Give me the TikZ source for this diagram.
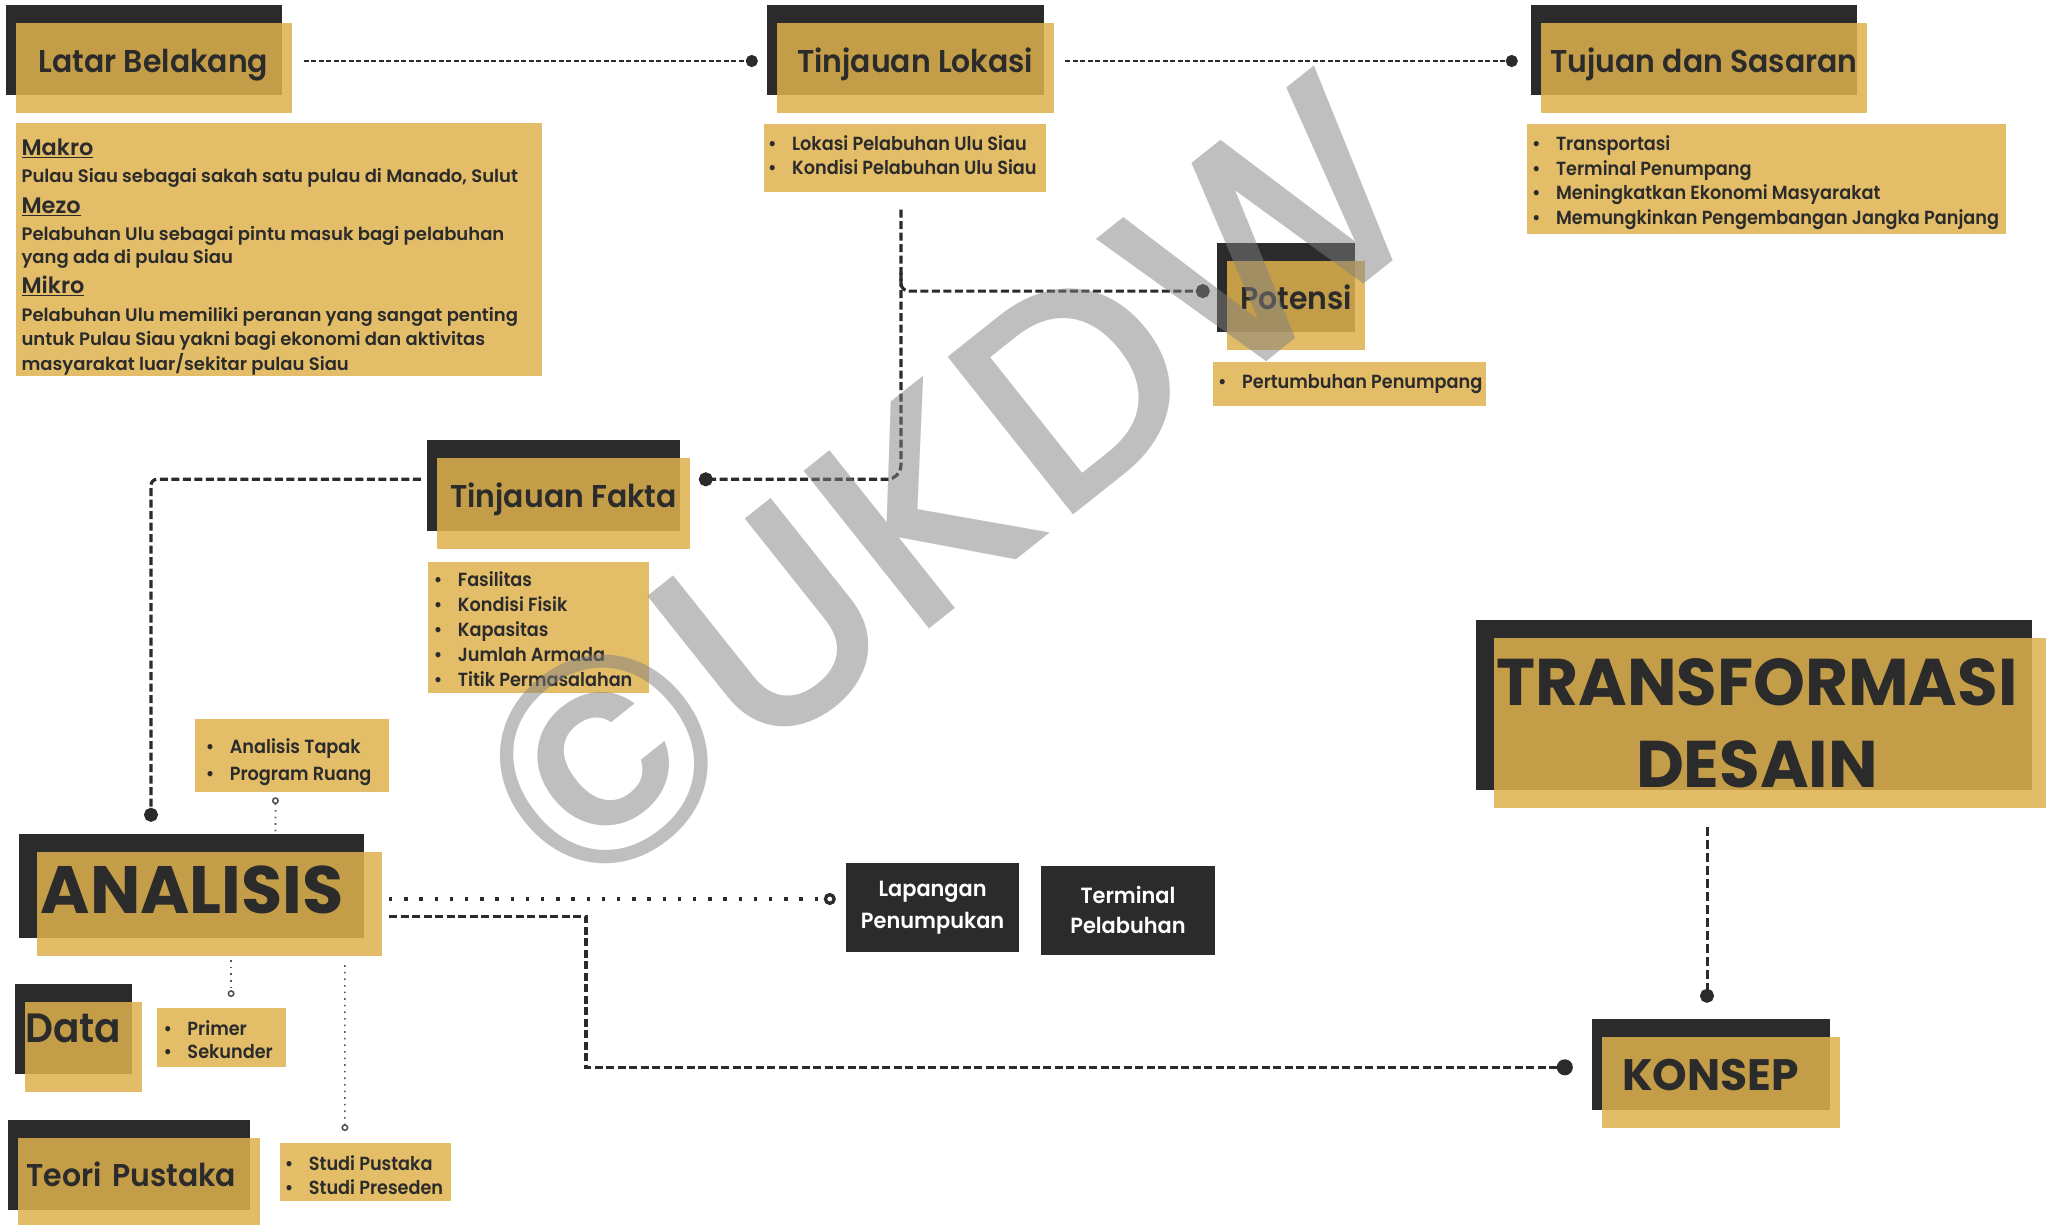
\documentclass[tikz,border=0pt]{standalone}
\usepackage{fontspec}
\setmainfont{Poppins}
\newfontfamily\headfont{Poppins SemiBold}[FakeStretch=0.95]
\newfontfamily\bodyfont{Poppins SemiBold}[FakeStretch=0.93]
\newfontfamily\latarfont{Poppins SemiBold}
\newfontfamily\wmfont{Poppins Medium}
\usetikzlibrary{shadows,arrows.meta}
\definecolor{ink}{HTML}{2B2B2B}
\definecolor{goldbase}{HTML}{DEB14D}
\definecolor{goldpale}{HTML}{E3BD68}
\definecolor{wmgray}{HTML}{808080}
\newcommand{\itm}[1]{\strut\makebox[24pt][l]{\textbullet}#1}
\newcommand{\hd}[1]{{\latarfont\fontsize{22.4}{24.5}\selectfont\strut\underline{#1}}}
\tikzset{
  titlebox/.style={fill=goldbase, fill opacity=0.85, text opacity=1, text=ink, inner sep=0pt,
    font=\headfont\fontsize{31.5}{36}\selectfont, text height=22pt, text depth=14pt,
    general shadow={fill=ink, fill opacity=1, shadow xshift=#1, shadow yshift=18pt}},
  titlebox/.default=-10pt,
  listbox/.style={fill=goldpale, inner sep=0pt},
  listtext/.style={anchor=north west, inner sep=0pt, align=left, text=ink,
    font=\bodyfont\fontsize{19}{#1}\selectfont},
  listtext/.default=24,
  darkbox/.style={fill=ink, text=white, inner sep=0pt, align=center},
  finedash/.style={draw=ink, line width=2.5pt, dash pattern=on 5pt off 2.5pt},
  dashline/.style={draw=ink, line width=3.2pt, dash pattern=on 8pt off 3.5pt},
  dotline/.style={draw=ink, line width=3.3pt, dash pattern=on 3.3pt off 11.9pt},
  thindot/.style={draw=ink!80, line width=1.6pt, dash pattern=on 1.6pt off 5pt},
  watermark/.style={rotate=38.5, text=wmgray, text opacity=0.5, inner sep=0pt,
    font=\wmfont\fontsize{290}{300}\selectfont}
}
\begin{document}
\begin{tikzpicture}[x=1pt, y=-1pt]
\useasboundingbox (0,0) rectangle (2046,1224);
\clip (0,0) rectangle (2046,1224);
\fill[white] (0,0) rectangle (2046,1224);

\node[titlebox, minimum width=276pt, minimum height=90.6pt] (latar) at (153.5,68) {Latar Belakang};
\node[titlebox, minimum width=276.8pt, minimum height=90.6pt] (lokasi) at (915.2,68) {Tinjauan Lokasi};
\node[titlebox, minimum width=326.3pt, minimum height=90.6pt] (tujuan) at (1704,68) {Tujuan dan Sasaran};
\node[titlebox, minimum width=138.4pt, minimum height=89.3pt] (potensi) at (1296,305.4) {Potensi};
\node[titlebox, minimum width=253pt, minimum height=91pt] (fakta) at (563.5,503.8) {Tinjauan Fakta};
\node[titlebox=-18pt, minimum width=345.4pt, minimum height=104pt, inner xsep=4pt, text width=337.4pt, align=left,
  font=\bfseries\fontsize{67}{70}\selectfont, text height=47pt, text depth=28.6pt] (analisis) at (209.4,904.3) {ANALISIS};
\node[titlebox, minimum width=116.8pt, minimum height=90pt, inner xsep=0.5pt, text width=115.8pt, align=left,
  font=\headfont\fontsize{41}{44}\selectfont, text height=28.6pt, text depth=37.4pt] (data) at (83.4,1046.7) {Data};
\node[titlebox, minimum width=241.3pt, minimum height=89.7pt, inner xsep=8pt, text width=225.3pt, align=left,
  text depth=16pt] (teori) at (139.05,1183.15) {Teori Pustaka};
\node[titlebox, minimum width=238pt, minimum height=91pt, inner xsep=20pt, text width=198pt, align=left,
  font=\bfseries\fontsize{44}{48}\selectfont, text height=30.7pt, text depth=16pt] (konsep) at (1721,1082.8) {KONSEP};
\node[titlebox=-18pt, minimum width=556pt, minimum height=170pt, align=center,
  font=\bfseries\fontsize{66}{82}\selectfont, text height=, text depth=] (transf) at (1772,723.3) {TRANSFORMASI\hspace*{30pt}\\DESAIN\hspace*{30pt}};

\node[listbox, minimum width=526.8pt, minimum height=252.7pt] (latarbox) at (279,249.65) {};
\node[listtext=24.5, font=\latarfont\fontsize{18}{24.5}\selectfont] (latartext) at (21.4,137.85) {\hd{Makro}\\[3.2pt]
  \strut Pulau Siau sebagai sakah satu pulau di Manado, Sulut\\[6.1pt]
  \hd{Mezo}\\[2.2pt]
  Pelabuhan Ulu sebagai pintu masuk bagi pelabuhan\\[-1.2pt]
  yang ada di pulau Siau\\[5.5pt]
  \hd{Mikro}\\[3.9pt]
  Pelabuhan Ulu memiliki peranan yang sangat penting\\[-1.2pt]
  untuk Pulau Siau yakni bagi ekonomi dan aktivitas\\[1.2pt]
  masyarakat luar/sekitar pulau Siau};
\node[listbox, minimum width=282.6pt, minimum height=68.3pt] (lokasibox) at (905.1,158.15) {};
\node[listtext=23.3] (lokasitext) at (767.9,134.4) {\itm{Lokasi Pelabuhan Ulu Siau}\\ \itm{Kondisi Pelabuhan Ulu Siau}};
\node[listbox, minimum width=479.2pt, minimum height=110.3pt] (tujuanbox) at (1766.1,179.15) {};
\node[listtext=24.5] (tujuantext) at (1531.8,133.55) {\itm{Transportasi}\\ \itm{Terminal Penumpang}\\
  \itm{Meningkatkan Ekonomi Masyarakat}\\ \itm{Memungkinkan Pengembangan Jangka Panjang}};
\node[listbox, minimum width=272.3pt, minimum height=43.7pt] (potensibox) at (1349.55,384.15) {};
\node[listtext] (potensitext) at (1217.9,371.5) {\itm{Pertumbuhan Penumpang}};
\node[listbox, minimum width=221.4pt, minimum height=131pt] (faktabox) at (538.3,627.2) {};
\node[listtext=25] (faktatext) at (433.7,569.2) {\itm{Fasilitas}\\ \itm{Kondisi Fisik}\\ \itm{Kapasitas}\\
  \itm{Jumlah Armada}\\ \itm{Titik Permasalahan}};
\node[listbox, minimum width=193.9pt, minimum height=73.3pt] (tapakbox) at (292.35,755.65) {};
\node[listtext=26.7] (tapaktext) at (205.6,734.6) {\itm{Analisis Tapak}\\ \itm{Program Ruang}};
\node[listbox, minimum width=128.6pt, minimum height=59pt] (primerbox) at (221.4,1037.8) {};
\node[listtext=23.3] (primertext) at (163.3,1018.7) {\itm{Primer}\\ \itm{Sekunder}};
\node[listbox, minimum width=171.4pt, minimum height=57.7pt] (studibox) at (365.3,1172.15) {};
\node[listtext=24.3] (studitext) at (284.7,1153) {\itm{Studi Pustaka}\\ \itm{Studi Preseden}};

\node[darkbox, minimum width=172.8pt, minimum height=88.7pt, font=\headfont\fontsize{22}{31.7}\selectfont] (lapangan) at (932.6,907.65) {Lapangan\\Penumpukan};
\node[darkbox, minimum width=174.4pt, minimum height=89pt, font=\headfont\fontsize{22}{30}\selectfont] (terminal) at (1128,910.2) {Terminal\\Pelabuhan};

\draw[finedash, -{Circle[length=12pt]}] ([xshift=12pt, yshift=7pt]latar.east) -- ([xshift=-18.8pt, yshift=7pt]lokasi.west);
\draw[finedash, -{Circle[length=12pt]}] ([xshift=11.4pt, yshift=7pt]lokasi.east) -- ([xshift=-22.9pt, yshift=7pt]tujuan.west);
\draw[dashline, rounded corners=14pt, -{Circle[length=14pt]}] ([xshift=-4.2pt, yshift=-17pt]lokasibox.south) |- ([xshift=8.6pt, yshift=24.5pt]fakta.east);
\draw[dashline, rounded corners=8pt, -{Circle[length=14pt]}] ([xshift=-4.2pt, yshift=-80pt]lokasibox.south) |- ([xshift=-16.8pt, yshift=14.3pt]potensi.west);
\draw[dashline, rounded corners=6pt, -{Circle[length=14pt]}] ([xshift=-16pt, yshift=24.5pt]fakta.west) -| ([xshift=-58.4pt, yshift=30.3pt]analisis.north);
\draw[dotline, -{Circle[open, length=12pt]}] ([xshift=6.7pt, yshift=5.3pt]analisis.east) -- ([xshift=-10.2pt, yshift=8.65pt]lapangan.west);
\draw[dashline, -{Circle[length=16pt]}] ([xshift=6.7pt, yshift=-12.4pt]analisis.east) -- ++(196.9,0) |- ([xshift=-29pt, yshift=15.5pt]konsep.west);
\draw[dashline, line width=3pt, dash pattern=on 9pt off 4pt, -{Circle[length=14pt]}] ([xshift=-65pt, yshift=-18.4pt]transf.south) -- ([xshift=-14pt, yshift=34.3pt]konsep.north);
\draw[thindot, {Circle[open, length=7pt]}-] ([xshift=-16.9pt, yshift=-4.7pt]tapakbox.south) -- ([xshift=66.1pt, yshift=19.3pt]analisis.north);
\draw[thindot, -{Circle[open, length=7pt]}] ([xshift=21.7pt, yshift=-3.7pt]analisis.south) -- ([xshift=9.7pt, yshift=11pt]primerbox.north);
\draw[thindot, -{Circle[open, length=7pt]}] ([xshift=135.5pt, yshift=-8.7pt]analisis.south) -- ([xshift=-20.4pt, yshift=12pt]studibox.north);

\node[watermark] (wm) at (948,486) {©UKDW};
\end{tikzpicture}
\end{document}
